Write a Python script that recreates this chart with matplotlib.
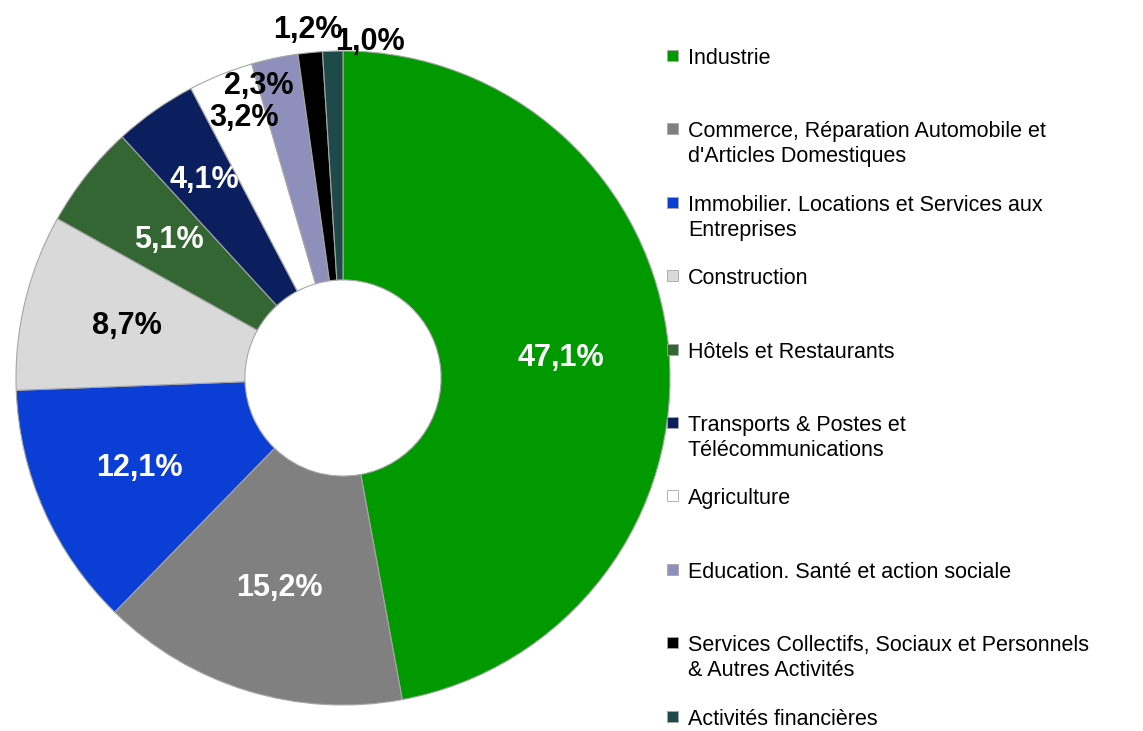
import matplotlib
matplotlib.use("Agg")
import matplotlib.pyplot as plt
import numpy as np

# données (% de l'emploi par secteur)
secteurs = [
    "Industrie",
    "Commerce, Réparation Automobile et\nd'Articles Domestiques",
    "Immobilier. Locations et Services aux\nEntreprises",
    "Construction",
    "Hôtels et Restaurants",
    "Transports & Postes et\nTélécommunications",
    "Agriculture",
    "Education. Santé et action sociale",
    "Services Collectifs, Sociaux et Personnels\n& Autres Activités",
    "Activités financières",
]
parts = [47.1, 15.2, 12.1, 8.7, 5.1, 4.1, 3.2, 2.3, 1.2, 1.0]
etiquettes = ["47,1%", "15,2%", "12,1%", "8,7%", "5,1%", "4,1%", "3,2%", "2,3%", "1,2%", "1,0%"]

couleurs = ["#009900", "#808080", "#0A3ED4", "#D9D9D9", "#336633",
            "#0B1F5E", "#FFFFFF", "#8F8FBB", "#000000", "#1F4A4A"]
couleurs_txt = ["white", "white", "white", "black", "white",
                "white", "black", "black", "black", "black"]
# position radiale des étiquettes (fraction du rayon) et décalage angulaire (deg)
dist_lbl = [0.67, 0.67, 0.68, 0.68, 0.68, 0.74, 0.85, 0.93, 1.07, 1.03]
decal_lbl = [0, 0, 0, 0, 0, 0, -1, 4, 0, -6.4]

plt.rcParams['font.family'] = ['Liberation Sans', 'DejaVu Sans']

W, H = 1143, 731
fig = plt.figure(figsize=(W / 100, H / 100), dpi=100)

cx, cy, R = 343, 378, 327
ax = fig.add_axes([(cx - R) / W, (H - cy - R) / H, 2 * R / W, 2 * R / H])
wedges, _ = ax.pie(parts, colors=couleurs, startangle=90, counterclock=False,
                   radius=1.0, wedgeprops=dict(width=0.70, edgecolor="#A6A6A6", linewidth=0.8))
ax.set_xlim(-1, 1)
ax.set_ylim(-1, 1)
ax.axis("off")

# étiquettes de pourcentage
cumul = 0.0
for i, p in enumerate(parts):
    mid = 90 - 360 * (cumul + p / 2) / 100 + decal_lbl[i]
    cumul += p
    a = np.deg2rad(mid)
    ax.text(dist_lbl[i] * np.cos(a), dist_lbl[i] * np.sin(a), etiquettes[i],
            ha="center", va="center", fontsize=22, fontweight="bold",
            color=couleurs_txt[i], clip_on=False)

# légende manuelle (emplacements réguliers, style Excel)
for i, (nom, c) in enumerate(zip(secteurs, couleurs)):
    y = H - (56 + i * 73.4)
    fig.patches.append(plt.Rectangle(((672 - 5) / W, (y - 5) / H), 11 / W, 11 / H,
                                     transform=fig.transFigure, facecolor=c,
                                     edgecolor="#A6A6A6", linewidth=0.6))
    fig.text(688 / W, (y + 8) / H, nom, ha="left", va="top", fontsize=15.5,
             linespacing=1.25, color="black")

fig.savefig("out.png", dpi=100, facecolor="white")
